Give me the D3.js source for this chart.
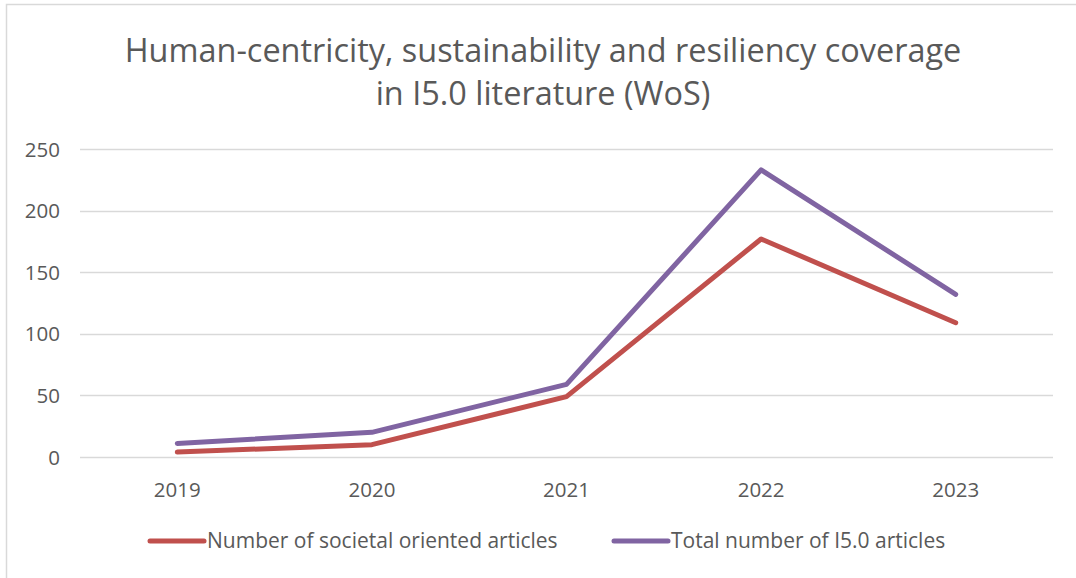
<!DOCTYPE html>
<html><head><meta charset="utf-8">
<script src="https://cdn.jsdelivr.net/npm/d3@7"></script>
<style>
html,body{margin:0;padding:0;background:#fff;}
svg{display:block;font-family:"Open Sans",sans-serif;}
</style></head>
<body><svg id="c" width="1076" height="578"></svg>
<script>
const years = ["2019","2020","2021","2022","2023"];
const societal = [4, 10, 49, 177, 109];
const total = [11, 20, 59, 233, 132];
const yTicks = [0, 50, 100, 150, 200, 250];
const seriesNames = ["Number of societal oriented articles", "Total number of I5.0 articles"];
const seriesColors = ["#C0504D", "#8064A2"];
const titleLines = ["Human-centricity, sustainability and resiliency coverage", "in I5.0 literature (WoS)"];

const svg = d3.select("#c");
svg.append("rect").attr("x",6.5).attr("y",4.5).attr("width",1100).attr("height",600)
  .attr("fill","#fff").attr("stroke","#d9d9d9").attr("stroke-width",1.5);

const x = d3.scaleBand().domain(years).range([80,1053]);
const y = d3.scaleLinear().domain([0,250]).range([457,149]);

// title
const tg = svg.append("g");
titleLines.forEach((t,i)=>{
  tg.append("text").attr("x",543).attr("y", i===0?62:105)
    .attr("text-anchor","middle").attr("fill","#595959").attr("font-size",30).text(t);
});
const w0 = tg.select("text").node().getComputedTextLength();
const fs = Math.min(34, 30*837/w0);
tg.selectAll("text").attr("font-size", fs);

// gridlines
svg.append("g").selectAll("line").data(yTicks).join("line")
  .attr("x1",80).attr("x2",1053).attr("y1",d=>Math.round(y(d))+0.5).attr("y2",d=>Math.round(y(d))+0.5)
  .attr("stroke","#d9d9d9").attr("stroke-width",1.5);

// y axis labels
const ya = svg.append("g").attr("transform","translate(60,0)")
  .call(d3.axisLeft(y).tickValues(yTicks).tickSize(0).tickPadding(0));
ya.select(".domain").remove();
ya.selectAll("text").attr("font-size",20.5).attr("fill","#595959").attr("font-family","Open Sans").attr("dy","0.35em");

// x axis labels
const xa = svg.append("g").attr("transform","translate(0,497)")
  .call(d3.axisBottom(x).tickSize(0).tickPadding(0));
xa.select(".domain").remove();
xa.selectAll("text").attr("font-size",20.5).attr("fill","#595959").attr("font-family","Open Sans").attr("dy","0");

// lines
const line = d3.line().x((d,i)=>x(years[i])+x.bandwidth()/2).y(d=>y(d));
[societal,total].forEach((s,i)=>{
  svg.append("path").datum(s).attr("d",line).attr("fill","none")
    .attr("stroke",seriesColors[i]).attr("stroke-width",5)
    .attr("stroke-linecap","round").attr("stroke-linejoin","round");
});

// legend
const legX = [150, 614];
seriesNames.forEach((n,i)=>{
  const g = svg.append("g").attr("transform",`translate(${legX[i]},541)`);
  g.append("line").attr("x1",0).attr("x2",54).attr("y1",0).attr("y2",0)
    .attr("stroke",seriesColors[i]).attr("stroke-width",5).attr("stroke-linecap","round");
  g.append("text").attr("x",57).attr("y",0).attr("dy","0.35em").attr("font-size",21)
    .attr("fill","#595959").text(n);
});
</script></body></html>
